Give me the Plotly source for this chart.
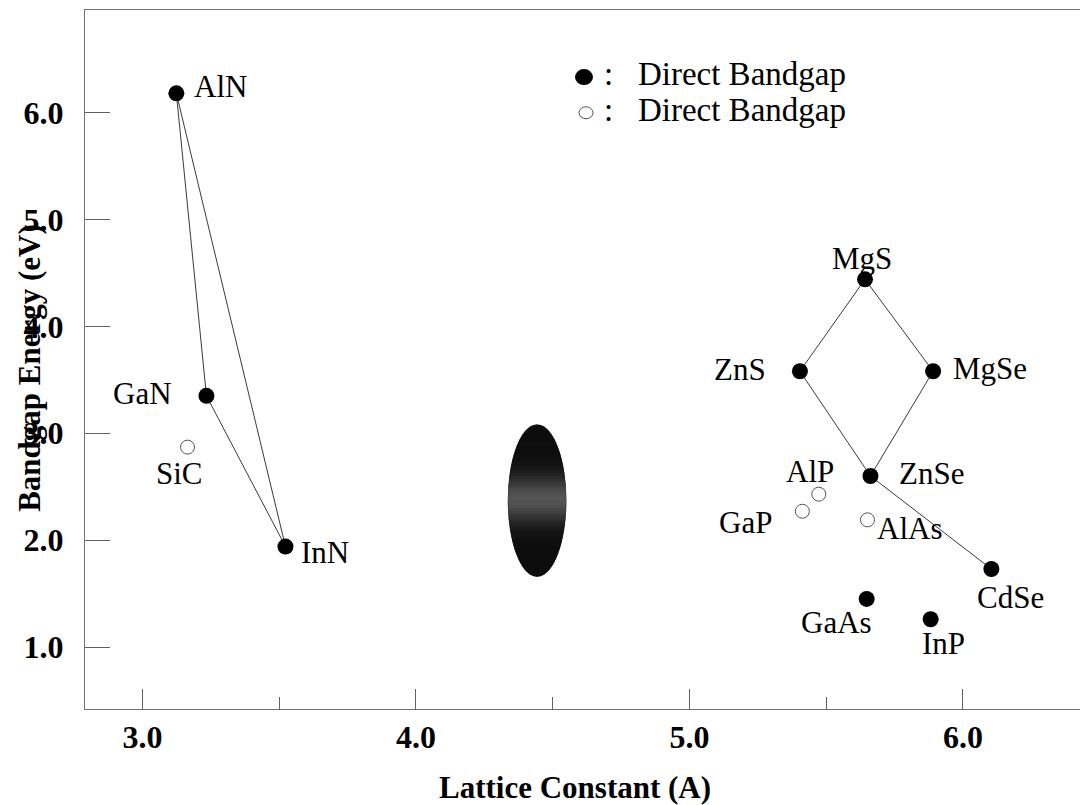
import numpy as np
import plotly.graph_objects as go

# ---------------- data ----------------
materials = ["AlN", "GaN", "InN", "SiC", "MgS", "ZnS", "MgSe", "ZnSe",
             "CdSe", "GaAs", "InP", "AlP", "GaP", "AlAs"]
lattice_const = [3.124, 3.234, 3.523, 3.165, 5.642, 5.404, 5.891, 5.662,
                 6.104, 5.648, 5.882, 5.473, 5.413, 5.651]
bandgap_ev = [6.18, 3.35, 1.94, 2.87, 4.44, 3.58, 3.58, 2.60,
              1.73, 1.45, 1.26, 2.43, 2.27, 2.19]
is_direct = [True, True, True, False, True, True, True, True,
             True, True, True, False, False, False]

# alloy tie lines (pairs of materials)
tie_lines = [("AlN", "GaN"), ("GaN", "InN"), ("InN", "AlN"),
             ("MgS", "ZnS"), ("MgS", "MgSe"), ("ZnS", "ZnSe"),
             ("MgSe", "ZnSe"), ("ZnSe", "CdSe")]

# shaded target region (centre lattice constant, centre gap, half-widths)
region_center = (4.443, 2.37)
region_half = (0.107, 0.71)

x_ticks = [3.0, 4.0, 5.0, 6.0]
x_ticktext = ["3.0", "4.0", "5.0", "6.0"]
x_minor = [3.5, 4.5, 5.5]
y_ticks = [1.0, 2.0, 3.0, 4.0, 5.0, 6.0]
y_ticktext = ["1.0", "2.0", "3.0", "4.0", "5.0", "6.0"]

legend_labels = ["Direct Bandgap", "Direct Bandgap"]   # (sic, as printed)

# ---------------- styles ----------------
SERIF = "Liberation Serif, Times New Roman, serif"
label_style = {  # name: (xanchor, xshift px, yshift px)
    "AlN": ("left", 16, 7), "GaN": ("right", -32, 2), "SiC": ("center", -8, -26),
    "InN": ("left", 14, -6), "MgS": ("center", -3, 21), "ZnS": ("right", -32, 2),
    "MgSe": ("left", 18, 3), "ZnSe": ("left", 27, 3), "AlP": ("center", -9, 23),
    "GaP": ("right", -28, -11), "AlAs": ("left", 8, -9), "CdSe": ("center", 19, -29),
    "GaAs": ("center", -30, -24), "InP": ("center", 13, -24),
}

fig = go.Figure()
idx = {m: i for i, m in enumerate(materials)}

# tie lines
for a, b in tie_lines:
    fig.add_trace(go.Scatter(
        x=[lattice_const[idx[a]], lattice_const[idx[b]]],
        y=[bandgap_ev[idx[a]], bandgap_ev[idx[b]]],
        mode="lines", line=dict(color="#3a3a3a", width=1),
        showlegend=False, hoverinfo="skip"))

# shaded ellipse region built from horizontal strips (vertical gradient)
cx, cy = region_center
ax_, by_ = region_half
fig.add_shape(type="circle", xref="x", yref="y",
              x0=cx - ax_, x1=cx + ax_, y0=cy - by_, y1=cy + by_,
              fillcolor="#0c0c0c", line=dict(width=0), layer="above")
n_strips = 60
edges = np.linspace(cy - by_, cy + by_, n_strips + 1)
for k in range(n_strips):
    y0, y1 = edges[k], edges[k + 1]
    ys = np.linspace(y0, y1, 4)
    hw = ax_ * np.sqrt(np.clip(1 - ((ys - cy) / by_) ** 2, 0, 1)) * 0.985
    pts = [(cx - h, y) for h, y in zip(hw, ys)] + [(cx + h, y) for h, y in zip(hw[::-1], ys[::-1])]
    path = "M " + " L ".join(f"{px:.5f},{py:.5f}" for px, py in pts) + " Z"
    t = ((y0 + y1) / 2 - cy) / by_
    g = int(14 + 72 * np.exp(-((t - 0.02) / 0.3) ** 2))
    col = f"rgb({g},{g},{g})"
    fig.add_shape(type="path", path=path, xref="x", yref="y",
                  fillcolor=col, line=dict(color=col, width=0.6), layer="above")

# markers
dx = [x for x, d in zip(lattice_const, is_direct) if d]
dy = [y for y, d in zip(bandgap_ev, is_direct) if d]
ix = [x for x, d in zip(lattice_const, is_direct) if not d]
iy = [y for y, d in zip(bandgap_ev, is_direct) if not d]

fig.add_trace(go.Scatter(x=dx, y=dy, mode="markers", name="Direct", showlegend=False,
                         marker=dict(symbol="circle", size=16, color="black",
                                     line=dict(width=0))))
fig.add_trace(go.Scatter(x=ix, y=iy, mode="markers", name="Indirect", showlegend=False,
                         marker=dict(symbol="circle", size=14, color="white",
                                     line=dict(width=1, color="#555555"))))

# material labels
for m, x, y in zip(materials, lattice_const, bandgap_ev):
    xa, xs, ys = label_style[m]
    fig.add_annotation(x=x, y=y, text=m, showarrow=False, xanchor=xa, yanchor="middle",
                       xshift=xs, yshift=ys, font=dict(family=SERIF, size=31, color="black"))

# key (drawn symbols + text, as in the original figure)
key_pos = [(0.4985, 0.904), (0.5005, 0.853)]
fig.add_shape(type="circle", xref="paper", yref="paper", xsizemode="pixel", ysizemode="pixel",
              xanchor=key_pos[0][0], yanchor=key_pos[0][1], x0=-9, x1=9, y0=-8, y1=8,
              fillcolor="black", line=dict(width=0))
fig.add_shape(type="circle", xref="paper", yref="paper", xsizemode="pixel", ysizemode="pixel",
              xanchor=key_pos[1][0], yanchor=key_pos[1][1], x0=-7, x1=7, y0=-6, y1=6,
              fillcolor="white", line=dict(width=1, color="#555555"))
for (kx, ky), lab in zip(key_pos, legend_labels):
    fig.add_annotation(xref="paper", yref="paper", x=0.516, y=ky + 0.004,
                       text=":\u00a0\u00a0\u00a0" + lab, showarrow=False,
                       xanchor="left", yanchor="middle",
                       font=dict(family=SERIF, size=33, color="black"))

# axis titles (the y title overlaps the tick labels as in the original)
fig.add_annotation(xref="paper", yref="paper", x=0.49, y=-0.113, text="<b>Lattice Constant (A)</b>",
                   showarrow=False, xanchor="center", yanchor="middle",
                   font=dict(family=SERIF, size=31, color="black"))
fig.add_annotation(xref="paper", yref="paper", x=-0.055, y=0.488, text="<b>Bandgap Energy (eV)</b>",
                   showarrow=False, xanchor="center", yanchor="middle", textangle=-90,
                   font=dict(family=SERIF, size=31, color="black"))

tickfont = dict(family=SERIF, size=32, color="black", weight="bold")
axis_common = dict(showline=True, linecolor="#707070", linewidth=1, mirror=True,
                   showgrid=False, zeroline=False, ticks="inside", tickcolor="#606060",
                   tickwidth=1, tickfont=tickfont)

fig.update_xaxes(range=[2.79, 6.45], tickmode="array", tickvals=x_ticks, ticktext=x_ticktext,
                 ticklen=20, ticklabelstandoff=0,
                 minor=dict(tickmode="array", tickvals=x_minor, ticks="inside", ticklen=12,
                            tickcolor="#606060", tickwidth=1, showgrid=False),
                 **axis_common)
fig.update_yaxes(range=[0.42, 6.96], tickmode="array", tickvals=y_ticks, ticktext=y_ticktext,
                 ticklen=25, ticklabelstandoff=14, **axis_common)

# page body has an 8px margin: size the figure so the plot box lands where the original's does
fig.update_layout(
    width=1080, height=797,
    margin=dict(l=77, r=2, t=2, b=96),
    paper_bgcolor="white", plot_bgcolor="white",
    showlegend=False,
)

fig.write_html("out.html")
